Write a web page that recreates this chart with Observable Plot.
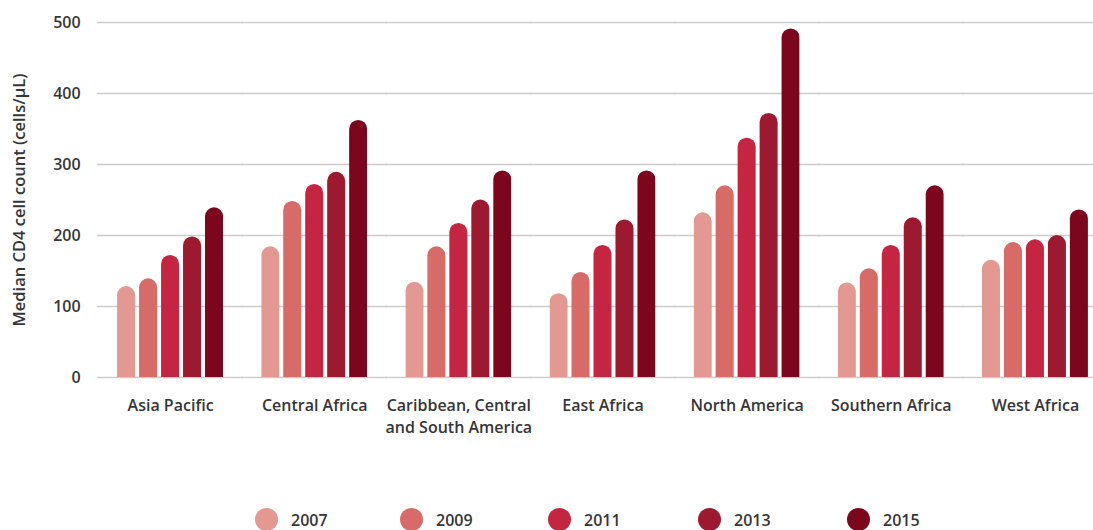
<!DOCTYPE html>
<html>
<head>
<meta charset="utf-8">
<script src="https://cdn.jsdelivr.net/npm/d3@7"></script>
<script src="https://cdn.jsdelivr.net/npm/@observablehq/plot@0.6"></script>
<style>
  html, body { margin: 0; padding: 0; background: #fff; }
  body { width: 1093px; height: 530px; overflow: hidden; font-family: "Open Sans", Lato, sans-serif; color: #363636; }
  #legend { position: relative; height: 35px; }
  .item { position: absolute; top: 13px; display: flex; align-items: center; font-size: 16px; font-weight: 600; }
  .dot { width: 23px; height: 23px; border-radius: 50%; margin-right: 13px; }
</style>
</head>
<body>
<div id="chart"></div>
<div id="legend"></div>
<script>
const regions = ["Asia Pacific", "Central Africa", "Caribbean, Central and South America", "East Africa", "North America", "Southern Africa", "West Africa"];
const years = ["2007", "2009", "2011", "2013", "2015"];
const v2007 = [128, 184, 134, 118, 232, 133, 165];
const v2009 = [139, 248, 184, 148, 270, 153, 190];
const v2011 = [172, 272, 217, 186, 337, 186, 194];
const v2013 = [198, 289, 250, 222, 372, 225, 200];
const v2015 = [239, 362, 291, 291, 491, 270, 236];
const yTicks = [0, 100, 200, 300, 400, 500];
const colors = ["#e39891", "#d76b67", "#c42540", "#9d192f", "#7b061e"];
const regionLabels = {"Caribbean, Central and South America": "Caribbean, Central\nand South America"};

const series = [v2007, v2009, v2011, v2013, v2015];
const data = [];
regions.forEach((r, i) => years.forEach((y, j) => data.push({region: r, year: y, value: series[j][i]})));

const chart = Plot.plot({
  width: 1093,
  height: 495,
  marginLeft: 98,
  marginRight: -14,
  marginTop: 22,
  marginBottom: 118,
  style: {fontFamily: "'Open Sans', Lato, sans-serif", color: "#363636", background: "#fff"},
  fx: {domain: regions, paddingInner: 0.265, paddingOuter: 0.1325, round: false, label: null},
  x: {domain: years, paddingInner: 0.18, paddingOuter: 0, round: false, axis: null},
  y: {domain: [0, 500]},
  color: {domain: years, range: colors},
  marks: [
    Plot.ruleY(yTicks, {y: d => d, stroke: "#cccccc", strokeWidth: 1.5, insetLeft: -20, insetRight: -20}),
    Plot.barY(data, {fx: "region", x: "year", y: "value", fill: "year", rx: 9, insetBottom: -10, clip: true}),
    Plot.axisY(yTicks, {tickSize: 0, tickPadding: 37, fontSize: 16, fontWeight: 600,
      label: "Median CD4 cell count (cells/μL)", labelAnchor: "center", labelOffset: 104, labelArrow: "none"}),
    Plot.axisFx({anchor: "bottom", tickSize: 0, tickPadding: 18, fontSize: 16, fontWeight: 600, lineHeight: 1.38,
      tickFormat: d => regionLabels[d] || d, label: null})
  ]
});
document.getElementById("chart").appendChild(chart);

chart.querySelectorAll("text").forEach(t => {
  if (t.textContent.startsWith("Median")) { t.style.fontSize = "16.5px"; t.style.fontWeight = "600"; }
});

const legend = document.getElementById("legend");
const starts = [255, 400, 548, 698, 847];
years.forEach((y, i) => {
  const it = document.createElement("div");
  it.className = "item";
  it.style.left = starts[i] + "px";
  it.innerHTML = `<span class="dot" style="background:${colors[i]}"></span><span>${y}</span>`;
  legend.appendChild(it);
});
</script>
</body>
</html>
